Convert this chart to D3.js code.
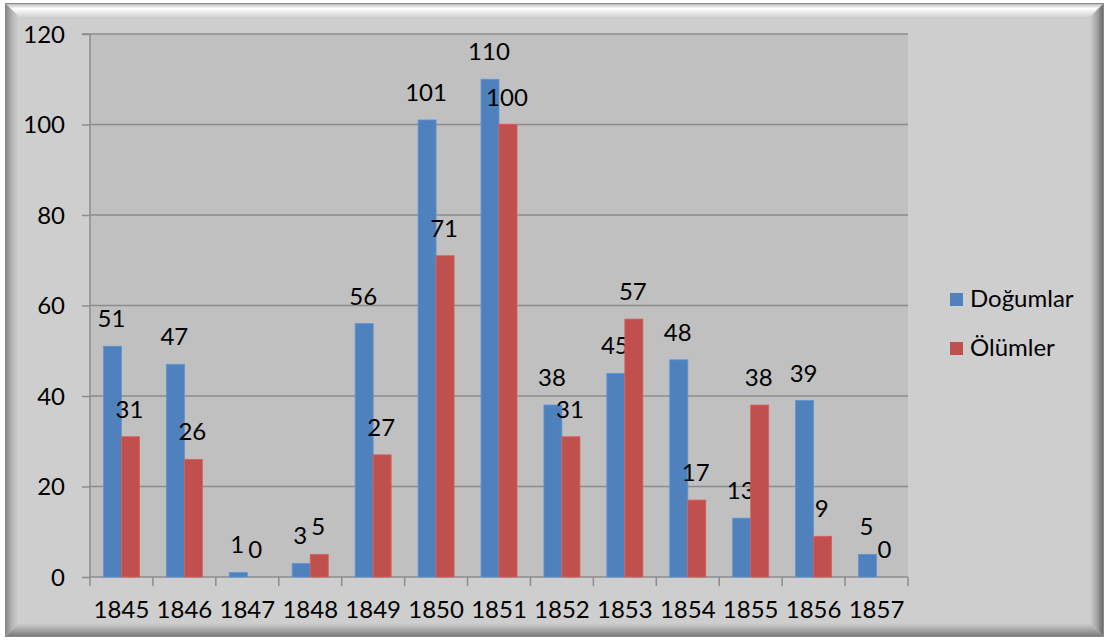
<!DOCTYPE html>
<html><head><meta charset="utf-8">
<script src="https://cdn.jsdelivr.net/npm/d3@7"></script>
<style>body{margin:0;background:#fff;}svg{display:block;}text{font-family:Lato,"Open Sans",sans-serif;fill:#000;}</style>
</head><body>
<svg id="c" width="1109" height="644"></svg>
<script>
const years = ["1845","1846","1847","1848","1849","1850","1851","1852","1853","1854","1855","1856","1857"];
const births = [51,47,1,3,56,101,110,38,45,48,13,39,5];
const deaths = [31,26,0,5,27,71,100,31,57,17,38,9,0];
const seriesNames = ["Doğumlar","Ölümler"];
const seriesColors = ["#4F81BD","#C0504D"];
const yTicks = [0,20,40,60,80,100,120];

const FS = 24;
const svg = d3.select("#c");
const defs = svg.append("defs");
function lg(id,x1,y1,x2,y2,stops){
  const g=defs.append("linearGradient").attr("id",id).attr("x1",x1).attr("y1",y1).attr("x2",x2).attr("y2",y2);
  stops.forEach(s=>g.append("stop").attr("offset",s[0]).attr("stop-color",s[1]));
}
lg("gTop",0,0,0,1,[[0,"#bdbdbd"],[0.35,"#ffffff"],[1,"#d2d2d2"]]);
lg("gLeft",0,0,1,0,[[0,"#8a8a8a"],[0.5,"#b8b8b8"],[1,"#d0d0d0"]]);
lg("gRight",0,0,1,0,[[0,"#cecece"],[0.5,"#a8a8a8"],[1,"#6a6a6a"]]);
lg("gBot",0,0,0,1,[[0,"#cecece"],[0.5,"#a9a9a9"],[1,"#7a7a7a"]]);

// Frame
const L=6,T=4,R=1103,B=636,bw=13;
svg.append("rect").attr("x",L-1).attr("y",T-1).attr("width",R-L+2).attr("height",B-T+2).attr("fill","#8a8a8a");
svg.append("rect").attr("x",L).attr("y",T).attr("width",R-L).attr("height",B-T).attr("fill","#cecece");
svg.append("polygon").attr("points",`${L},${T} ${R},${T} ${R-bw},${T+bw} ${L+bw},${T+bw}`).attr("fill","url(#gTop)");
svg.append("polygon").attr("points",`${L},${T} ${L+bw},${T+bw} ${L+bw},${B-bw} ${L},${B}`).attr("fill","url(#gLeft)");
svg.append("polygon").attr("points",`${R},${T} ${R},${B} ${R-bw},${B-bw} ${R-bw},${T+bw}`).attr("fill","url(#gRight)");
svg.append("polygon").attr("points",`${L},${B} ${L+bw},${B-bw} ${R-bw},${B-bw} ${R},${B}`).attr("fill","url(#gBot)");

// Plot
const px0=90, px1=908, py0=34, py1=577;
svg.append("rect").attr("x",px0).attr("y",py0).attr("width",px1-px0).attr("height",py1-py0).attr("fill","#c0c0c0");

const x = d3.scaleBand().domain(years).range([px0,px1]).paddingInner(0).paddingOuter(0);
const barW = x.bandwidth()*0.286;
const y = d3.scaleLinear().domain([0,120]).range([py1,py0]);

// gridlines
svg.append("g").selectAll("line").data(yTicks.filter(d=>d>0)).join("line")
  .attr("x1",px0).attr("x2",px1).attr("y1",d=>y(d)).attr("y2",d=>y(d))
  .attr("stroke","#8c8c8c").attr("stroke-width",1.5);

// y axis
const yAxis = svg.append("g").attr("transform",`translate(${px0},0)`)
  .call(d3.axisLeft(y).tickValues(yTicks).tickSize(8).tickPadding(17));
yAxis.select(".domain").attr("stroke","#8c8c8c").attr("stroke-width",1.5).attr("d",`M-8,${py0}H0V${py1}`);
yAxis.selectAll(".tick line").attr("stroke","#8c8c8c").attr("stroke-width",1.5);
yAxis.selectAll(".tick text").attr("font-size",FS).attr("font-family","Lato").attr("fill","#000").attr("dy","0.35em");

// x axis
const xAxis = svg.append("g").attr("transform",`translate(0,${py1})`)
  .call(d3.axisBottom(x).tickSize(0).tickPadding(24));
xAxis.select(".domain").attr("stroke","#8c8c8c").attr("stroke-width",1.5).attr("d",`M${px0},0H${px1}`);
xAxis.selectAll(".tick text").attr("font-size",FS).attr("font-family","Lato").attr("fill","#000");
svg.append("g").selectAll("line").data(d3.range(years.length+1)).join("line")
  .attr("x1",i=>px0+i*x.step()).attr("x2",i=>px0+i*x.step())
  .attr("y1",py1).attr("y2",py1+9).attr("stroke","#8c8c8c").attr("stroke-width",1.5);

// bars
const series=[births,deaths];
series.forEach((vals,si)=>{
  const g=svg.append("g");
  const bx = (d,i)=> x(years[i]) + x.bandwidth()/2 - barW + si*barW;
  g.selectAll("rect").data(vals).join("rect")
    .attr("x",(d,i)=>bx(d,i)).attr("y",d=>y(d)).attr("width",barW).attr("height",d=>py1-y(d))
    .attr("fill",seriesColors[si]).attr("stroke",d3.color(seriesColors[si]).brighter(0.4)).attr("stroke-width",0.8);
  g.selectAll("text").data(vals).join("text")
    .attr("x",(d,i)=>bx(d,i)+barW/2-1).attr("y",d=>y(d)-19)
    .attr("text-anchor","middle").attr("font-size",FS).text(d=>d);
});

// legend
const lgG=svg.append("g");
seriesNames.forEach((n,i)=>{
  const ly=[299,348][i];
  lgG.append("rect").attr("x",950).attr("y",ly-6).attr("width",13).attr("height",13).attr("fill",seriesColors[i]);
  lgG.append("text").attr("x",970).attr("y",ly).attr("dy","0.35em").attr("font-size",FS).text(n);
});
</script>
</body></html>
